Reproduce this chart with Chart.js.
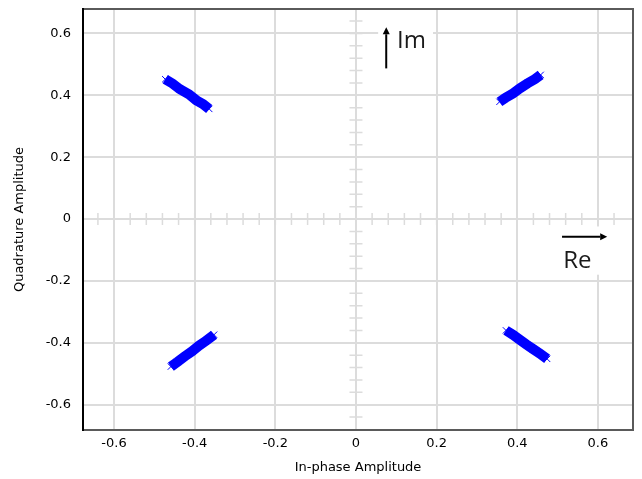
<!DOCTYPE html>
<html>
<head>
<meta charset="utf-8">
<script src="https://cdn.jsdelivr.net/npm/chart.js@4"></script>
<style>
  html, body { margin: 0; padding: 0; background: #fff; }
  #wrap { width: 642px; height: 479px; }
</style>
</head>
<body>
<div id="wrap"><canvas id="constellation"></canvas></div>
<script>
// received symbols, four clusters smeared along short strokes (I, Q)
const symTopLeft = [
  {x: -0.473, y: 0.452}, {x: -0.455, y: 0.438}, {x: -0.437, y: 0.420}, {x: -0.414, y: 0.403},
  {x: -0.396, y: 0.384}, {x: -0.379, y: 0.371}, {x: -0.364, y: 0.356}
];
const symTopRight = [
  {x: 0.356, y: 0.379}, {x: 0.371, y: 0.392}, {x: 0.389, y: 0.406}, {x: 0.407, y: 0.423},
  {x: 0.426, y: 0.439}, {x: 0.443, y: 0.452}, {x: 0.458, y: 0.466}
];
const symBottomLeft = [
  {x: -0.459, y: -0.477}, {x: -0.443, y: -0.462}, {x: -0.426, y: -0.445}, {x: -0.407, y: -0.428},
  {x: -0.389, y: -0.409}, {x: -0.370, y: -0.392}, {x: -0.352, y: -0.374}
];
const symBottomRight = [
  {x: 0.372, y: -0.360}, {x: 0.389, y: -0.374}, {x: 0.405, y: -0.389}, {x: 0.423, y: -0.406},
  {x: 0.440, y: -0.421}, {x: 0.458, y: -0.437}, {x: 0.474, y: -0.452}
];

const xTickValues = [-0.6, -0.4, -0.2, 0, 0.2, 0.4, 0.6];
const xTickLabels = ['-0.6', '-0.4', '-0.2', '0', '0.2', '0.4', '0.6'];
const yTickValues = [-0.6, -0.4, -0.2, 0, 0.2, 0.4, 0.6];
const yTickLabels = ['-0.6', '-0.4', '-0.2', '0', '0.2', '0.4', '0.6'];

const xRange = [-0.677, 0.687];
const yRange = [-0.682, 0.679];

const gridColor = '#dcdcdc';
const symbolColor = '#0000ff';
const tickFont = {family: 'DejaVu Sans', size: 13};
const titleFont = {family: 'DejaVu Sans', size: 13};

// little axis cross in the middle with minor ticks every 0.04
const minorStep = 0.04;

// Im / Re direction labels, in data units
const imLabel = {box: [0.055, 0.642, 0.191, 0.474], arrow: [0.075, 0.487, 0.075, 0.620], text: [0.102, 0.552]};
const reLabel = {box: [0.489, -0.024, 0.620, -0.180], arrow: [0.511, -0.057, 0.623, -0.057], text: [0.514, -0.157]};

function cluster(points) {
  return {
    data: points,
    showLine: true,
    borderColor: symbolColor,
    borderWidth: 10,
    borderCapStyle: 'butt',
    pointStyle: 'crossRot',
    pointRadius: 4.5,
    pointBorderWidth: 1,
    pointBorderColor: symbolColor,
    pointBackgroundColor: symbolColor
  };
}

function arrow(ctx, x1, y1, x2, y2) {
  const ang = Math.atan2(y2 - y1, x2 - x1);
  const head = 7, half = 3.5;
  ctx.strokeStyle = '#000';
  ctx.fillStyle = '#000';
  ctx.lineWidth = 2;
  ctx.beginPath();
  ctx.moveTo(x1, y1);
  ctx.lineTo(x2 - head * Math.cos(ang), y2 - head * Math.sin(ang));
  ctx.stroke();
  ctx.beginPath();
  ctx.moveTo(x2, y2);
  ctx.lineTo(x2 - head * Math.cos(ang) + half * Math.sin(ang), y2 - head * Math.sin(ang) - half * Math.cos(ang));
  ctx.lineTo(x2 - head * Math.cos(ang) - half * Math.sin(ang), y2 - head * Math.sin(ang) + half * Math.cos(ang));
  ctx.closePath();
  ctx.fill();
}

const decor = {
  id: 'decor',
  beforeDatasetsDraw(chart) {
    const {ctx, scales: {x, y}} = chart;
    const x0 = x.getPixelForValue(0), y0 = y.getPixelForValue(0);
    ctx.save();
    ctx.strokeStyle = gridColor;
    ctx.lineWidth = 1.5;
    ctx.beginPath();
    for (let i = -16; i <= 16; i++) {
      if (i === 0) continue;
      const px = x.getPixelForValue(i * minorStep);
      ctx.moveTo(px, y0 - 6);
      ctx.lineTo(px, y0 + 6);
      const py = y.getPixelForValue(i * minorStep);
      ctx.moveTo(x0 - 6.5, py);
      ctx.lineTo(x0 + 6.5, py);
    }
    ctx.stroke();

    for (const lab of [imLabel, reLabel]) {
      const [bx1, by1, bx2, by2] = lab.box;
      const l = x.getPixelForValue(bx1), t = y.getPixelForValue(by1);
      ctx.fillStyle = '#fff';
      ctx.fillRect(l, t, x.getPixelForValue(bx2) - l, y.getPixelForValue(by2) - t);
    }
    ctx.restore();
  },
  afterDraw(chart) {
    const {ctx, chartArea: a, scales: {x, y}} = chart;
    ctx.save();
    // frame
    ctx.lineWidth = 2;
    ctx.strokeStyle = '#5a5a5a';
    ctx.beginPath();
    ctx.moveTo(a.left, a.top);
    ctx.lineTo(a.right, a.top);
    ctx.lineTo(a.right, a.bottom);
    ctx.lineTo(a.left, a.bottom);
    ctx.stroke();
    ctx.strokeStyle = '#000';
    ctx.beginPath();
    ctx.moveTo(a.left, a.top - 1);
    ctx.lineTo(a.left, a.bottom + 1);
    ctx.stroke();

    for (const [lab, txt] of [[imLabel, 'Im'], [reLabel, 'Re']]) {
      const [ax1, ay1, ax2, ay2] = lab.arrow;
      arrow(ctx, x.getPixelForValue(ax1), y.getPixelForValue(ay1), x.getPixelForValue(ax2), y.getPixelForValue(ay2));
      ctx.fillStyle = '#1a1a1a';
      ctx.font = '24px "Open Sans"';
      ctx.textBaseline = 'alphabetic';
      ctx.textAlign = 'left';
      ctx.fillText(txt, x.getPixelForValue(lab.text[0]), y.getPixelForValue(lab.text[1]));
    }
    ctx.restore();
  }
};

new Chart('constellation', {
  type: 'scatter',
  data: {
    datasets: [cluster(symTopLeft), cluster(symTopRight), cluster(symBottomLeft), cluster(symBottomRight)]
  },
  options: {
    responsive: true,
    maintainAspectRatio: false,
    animation: false,
    layout: {padding: {top: 9, right: 9, left: 0, bottom: 0}},
    plugins: {legend: {display: false}, tooltip: {enabled: false}},
    scales: {
      x: {
        type: 'linear',
        min: xRange[0],
        max: xRange[1],
        afterBuildTicks: s => { s.ticks = xTickValues.map(v => ({value: v})); },
        afterFit: s => { s.height = 49; s.paddingLeft = 0; s.paddingRight = 0; },
        grid: {color: gridColor, lineWidth: 2, drawTicks: false},
        border: {display: false},
        ticks: {padding: 6, font: tickFont, color: '#000', maxRotation: 0,
          callback: (v, i) => xTickLabels[i]},
        title: {display: true, text: 'In-phase Amplitude', font: titleFont, color: '#000',
          padding: {top: 0, bottom: 4}}
      },
      y: {
        type: 'linear',
        min: yRange[0],
        max: yRange[1],
        afterBuildTicks: s => { s.ticks = yTickValues.map(v => ({value: v})); },
        afterFit: s => { s.width = 83; s.paddingTop = 0; s.paddingBottom = 0; },
        grid: {color: gridColor, lineWidth: 2, drawTicks: false},
        border: {display: false},
        ticks: {padding: 12, font: tickFont, color: '#000',
          callback: (v, i) => yTickLabels[i]},
        title: {display: true, text: 'Quadrature Amplitude', font: titleFont, color: '#000',
          padding: {top: 12, bottom: 0}}
      }
    }
  },
  plugins: [decor]
});
</script>
</body>
</html>
